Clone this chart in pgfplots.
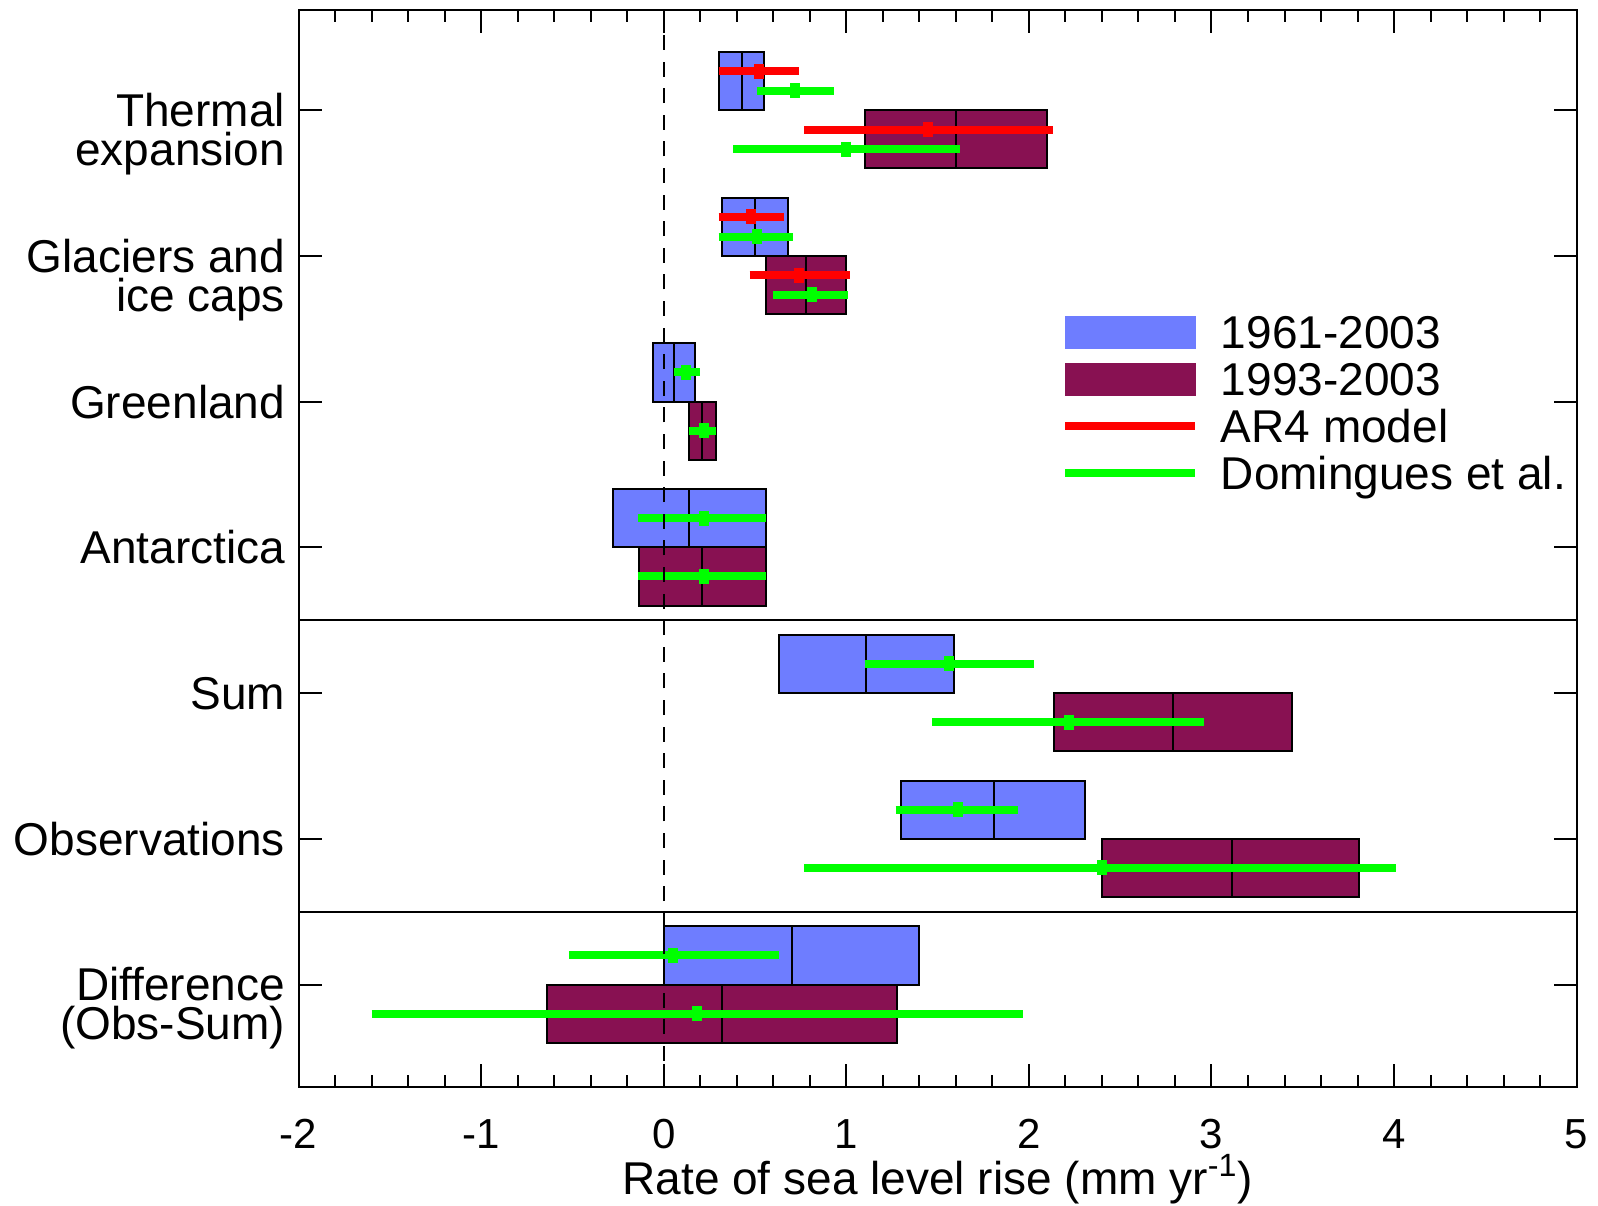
\documentclass[border=0pt]{standalone}
\usepackage{fontspec}
\setmainfont{Liberation Sans}
\usepackage{pgfplots}
\pgfplotsset{compat=1.18}

\definecolor{earlyfill}{RGB}{110,125,255}
\definecolor{latefill}{RGB}{136,17,82}
\definecolor{modelred}{RGB}{255,0,0}
\definecolor{domgreen}{RGB}{0,255,0}

% range box: fill colour, bottom, top, low, median, high
\newcommand{\rangebox}[6]{%
  \addplot[draw=black, line width=1pt, fill=#1] coordinates {(#4,#2) (#6,#2) (#6,#3) (#4,#3)} -- cycle;
  \addplot[black, line width=1pt] coordinates {(#5,#2) (#5,#3)};}
% estimate bar: colour, y, low, central, high
\newcommand{\estimate}[5]{%
  \addplot[#1, line width=4pt] coordinates {(#3,#2) (#5,#2)};
  \addplot[#1, line width=5pt, only marks, mark=|, mark size=3.75pt] coordinates {(#4,#2)};}
% two-line category label, first line on the tick
\newcommand{\twoline}[2]{\vtop{\baselineskip=19.5pt\lineskiplimit=-100pt\halign{\hfil##\cr#1\cr#2\cr}}}

\begin{document}
\begin{tikzpicture}
\useasboundingbox (-149.3pt,-58.8pt) rectangle (649.7pt,543.7pt);
\begin{axis}[
  at={(0pt,0pt)}, anchor=south west,
  scale only axis, width=639pt, height=538.6pt,
  xmin=-2, xmax=5, ymin=0.294, ymax=7.686,
  xtick={-2,-1,0,1,2,3,4,5}, minor x tick num=4,
  ytick={1,2,3,4,5,6,7},
  yticklabels={\twoline{Difference}{(Obs-Sum)}, Observations, Sum, Antarctica, Greenland, \twoline{Glaciers and}{ice caps}, \twoline{Thermal}{expansion}},
  tick align=inside, tick pos=both,
  major tick length=11.5pt, minor tick length=6pt,
  tick style={black, line width=1pt},
  axis line style={line width=1pt},
  /pgf/number format/assume math mode=true,
  xticklabel style={font=\fontsize{21}{25}\selectfont, anchor=north, inner sep=0pt, yshift=-15.8pt},
  yticklabel style={font=\fontsize{23}{19.5}\selectfont, anchor=base east, inner sep=0pt, xshift=-6.6pt, yshift=-8.2pt},
  xlabel={Rate of sea level rise (mm yr\textsuperscript{-1})},
  xlabel style={font=\fontsize{23}{27}\selectfont, at={(axis description cs:0.5,0)}, anchor=base, inner sep=0pt, yshift=-53.5pt},
  legend style={at={(axis description cs:0.5966,0.7162)}, anchor=north west, draw=none, fill=none,
    inner sep=0pt, outer sep=0pt, row sep=6.9pt, column sep=10.7pt,
    font=\fontsize{23}{27}\selectfont, nodes={inner sep=0pt, text height=16.5pt, text depth=0pt}},
  legend cell align=left,
]
\addlegendimage{legend image code/.code={\fill[earlyfill] (0pt,-7.9pt) rectangle (65.2pt,7.9pt);}}
\addlegendentry{1961-2003}
\addlegendimage{legend image code/.code={\fill[latefill] (0pt,-7.9pt) rectangle (65.2pt,7.9pt);}}
\addlegendentry{1993-2003}
\addlegendimage{legend image code/.code={\path[draw=none, fill=none] (0pt,-7.9pt) rectangle (65.2pt,7.9pt); \draw[modelred, line width=4pt] (0pt,0pt) -- (65.2pt,0pt);}}
\addlegendentry{AR4 model}
\addlegendimage{legend image code/.code={\path[draw=none, fill=none] (0pt,-7.9pt) rectangle (65.2pt,7.9pt); \draw[domgreen, line width=4pt] (0pt,0pt) -- (65.2pt,0pt);}}
\addlegendentry{Domingues et al.}

% observed / assessed ranges: 1961-2003 above each tick, 1993-2003 below
% Thermal expansion
\rangebox{earlyfill}{7}{7.4}{0.30}{0.43}{0.55}
\rangebox{latefill}{6.6}{7}{1.10}{1.60}{2.10}
% Glaciers and ice caps
\rangebox{earlyfill}{6}{6.4}{0.32}{0.50}{0.68}
\rangebox{latefill}{5.6}{6}{0.56}{0.78}{1.00}
% Greenland
\rangebox{earlyfill}{5}{5.4}{-0.06}{0.055}{0.17}
\rangebox{latefill}{4.6}{5}{0.14}{0.21}{0.285}
% Antarctica
\rangebox{earlyfill}{4}{4.4}{-0.28}{0.14}{0.56}
\rangebox{latefill}{3.6}{4}{-0.135}{0.21}{0.56}
% Sum
\rangebox{earlyfill}{3}{3.4}{0.63}{1.11}{1.59}
\rangebox{latefill}{2.6}{3}{2.14}{2.79}{3.44}
% Observations
\rangebox{earlyfill}{2}{2.4}{1.30}{1.81}{2.31}
\rangebox{latefill}{1.6}{2}{2.40}{3.11}{3.81}
% Difference (Obs-Sum)
\rangebox{earlyfill}{1}{1.4}{0.00}{0.70}{1.40}
\rangebox{latefill}{0.6}{1}{-0.64}{0.32}{1.28}

% panel separators
\addplot[black, line width=1pt] coordinates {(-2,3.5) (5,3.5)};
\addplot[black, line width=1pt] coordinates {(-2,1.5) (5,1.5)};

% AR4 model and Domingues et al. estimates
\estimate{modelred}{7.267}{0.30}{0.52}{0.74}
\estimate{domgreen}{7.133}{0.51}{0.72}{0.93}
\estimate{modelred}{6.867}{0.77}{1.45}{2.13}
\estimate{domgreen}{6.733}{0.38}{1.00}{1.62}
\estimate{modelred}{6.267}{0.30}{0.48}{0.66}
\estimate{domgreen}{6.133}{0.30}{0.51}{0.71}
\estimate{modelred}{5.867}{0.47}{0.74}{1.02}
\estimate{domgreen}{5.733}{0.60}{0.81}{1.01}
\estimate{domgreen}{5.2}{0.056}{0.12}{0.20}
\estimate{domgreen}{4.8}{0.14}{0.22}{0.285}
\estimate{domgreen}{4.2}{-0.14}{0.22}{0.56}
\estimate{domgreen}{3.8}{-0.14}{0.22}{0.56}
\estimate{domgreen}{3.2}{1.10}{1.56}{2.03}
\estimate{domgreen}{2.8}{1.47}{2.22}{2.96}
\estimate{domgreen}{2.2}{1.27}{1.61}{1.94}
\estimate{domgreen}{1.8}{0.77}{2.40}{4.01}
\estimate{domgreen}{1.2}{-0.52}{0.05}{0.63}
\estimate{domgreen}{0.8}{-1.60}{0.18}{1.97}

% zero line
\addplot[black, line width=0.9pt, dash pattern=on 7.5pt off 5.8pt] coordinates {(0,0.294) (0,7.686)};
\end{axis}
\end{tikzpicture}
\end{document}
